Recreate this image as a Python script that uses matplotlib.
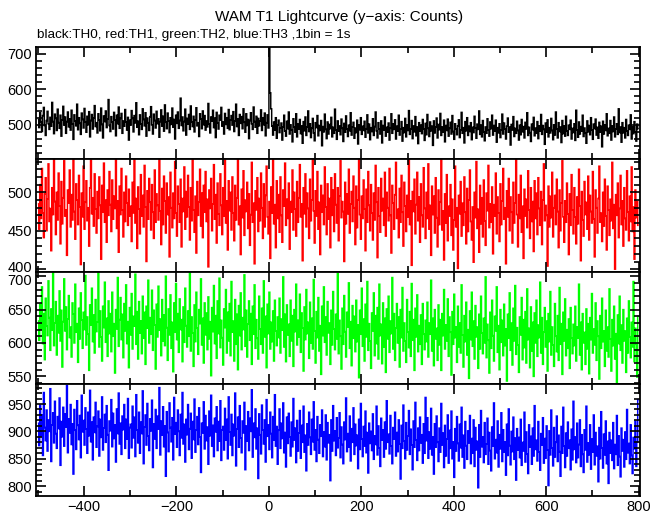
import matplotlib
matplotlib.use("Agg")
import matplotlib.pyplot as plt
import numpy as np
from matplotlib.ticker import MultipleLocator
from matplotlib.transforms import offset_copy

plt.rcParams['font.family'] = ['Liberation Sans', 'DejaVu Sans']

# light curve bins: start time (s) and bin width used here (2 s per plotted bin)
t_start = -500
bin_width = 2

# TH0 (black)
th0 = [
    515, 492, 534, 507, 481, 526, 549, 498, 470, 512,
    538, 503, 487, 521, 496, 563, 509, 475, 530, 518,
    484, 544, 506, 490, 527, 468, 513, 552, 499, 522,
    476, 509, 536, 494, 517, 485, 541, 502, 459, 528,
    511, 497, 558, 486, 520, 504, 473, 533, 515, 491,
    546, 508, 479, 524, 500, 537, 466, 512, 529, 488,
    519, 554, 495, 506, 477, 531, 514, 483, 547, 501,
    463, 525, 509, 539, 492, 516, 571, 498, 481, 523,
    507, 488, 535, 514, 469, 527, 503, 550, 490, 518,
    532, 476, 511, 496, 543, 508, 485, 521, 457, 513,
    499, 540, 518, 480, 526, 505, 562, 493, 510, 472,
    528, 502, 487, 545, 515, 497, 534, 468, 519, 506,
    484, 523, 551, 500, 474, 530, 512, 491, 538, 503,
    517, 465, 509, 542, 496, 524, 482, 556, 507, 489,
    533, 511, 478, 520, 501, 547, 493, 515, 460, 527,
    504, 536, 490, 512, 575, 498, 522, 483, 509, 544,
    471, 518, 502, 529, 487, 553, 508, 495, 524, 480,
    513, 548, 497, 506, 467, 531, 516, 489, 539, 500,
    526, 485, 511, 494, 560, 503, 477, 522, 510, 541,
    492, 519, 464, 535, 505, 488, 527, 513, 549, 496,
    508, 474, 532, 501, 520, 490, 543, 486, 514, 526,
    499, 537, 481, 510, 558, 495, 517, 470, 529, 504,
    523, 489, 545, 507, 479, 531, 498, 515, 461, 512,
    534, 503, 487, 550, 509, 493, 524, 476, 518, 497,
    511, 542, 484, 520, 500, 533, 469, 506, 528, 491,
    722, 590, 545,
    496, 471, 508, 485, 520, 462, 499, 513, 478, 491,
    505, 457, 494, 527, 482, 468, 510, 489, 536, 474,
    500, 486, 452, 517, 493, 479, 531, 466, 502, 488,
    515, 475, 497, 448, 509, 483, 522, 470, 494, 539,
    481, 503, 464, 490, 518, 477, 455, 506, 492, 526,
    469, 498, 484, 512, 441, 495, 480, 530, 487, 461,
    508, 474, 501, 489, 521, 466, 493, 476, 544, 485,
    459, 511, 482, 497, 472, 516, 490, 453, 504, 479,
    525, 488, 467, 499, 483, 534, 471, 494, 507, 462,
    491, 478, 513, 446, 500, 486, 520, 473, 496, 484,
    510, 465, 489, 528, 477, 502, 458, 492, 481, 517,
    470, 495, 536, 483, 463, 506, 488, 474, 511, 449,
    498, 485, 522, 468, 493, 479, 505, 457, 490, 531,
    476, 503, 487, 514, 460, 496, 482, 527, 471, 488,
    509, 454, 492, 478, 518, 466, 500, 484, 540, 473,
    489, 512, 461, 497, 480, 523, 469, 494, 447, 506,
    482, 499, 475, 515, 488, 456, 504, 472, 529, 490,
    467, 508, 483, 496, 442, 511, 477, 493, 519, 463,
    501, 486, 532, 470, 494, 479, 513, 452, 498, 484,
    516, 468, 490, 507, 474, 526, 481, 459, 503, 488,
    472, 497, 514, 464, 485, 535, 476, 492, 449, 509,
    483, 520, 470, 496, 481, 506, 458, 493, 478, 524,
    491, 462, 502, 487, 539, 473, 499, 466, 512, 480,
    455, 494, 476, 517, 485, 468, 508, 489, 527, 471,
    498, 482, 513, 451, 492, 477, 503, 464, 486, 530,
    474, 505, 488, 460, 496, 519, 479, 494, 443, 501,
    485, 523, 467, 490, 476, 510, 484, 457, 499, 472,
    515, 480, 495, 463, 507, 488, 534, 470, 493, 478,
    453, 502, 486, 521, 469, 491, 476, 509, 461, 497,
    482, 529, 473, 498, 487, 445, 505, 479, 514, 466,
    492, 477, 518, 484, 458, 500, 471, 536, 488, 463,
    506, 481, 494, 450, 512, 475, 497, 468, 524, 483,
    470, 499, 487, 513, 460, 490, 478, 503, 456, 541,
    486, 465, 508, 474, 495, 482, 527, 467, 491, 476,
    448, 511, 480, 498, 472, 520, 485, 459, 502, 489,
    516, 471, 493, 462, 507, 479, 496, 438, 510, 474,
    500, 484, 531, 469, 490, 476, 512, 457, 497, 481,
    522, 466, 488, 503, 473, 545, 478, 494, 451, 506,
    477, 492, 463, 515, 483, 470, 499, 487, 528, 460,
    495, 475, 509, 480, 454, 502, 489,
]

# TH1 (red)
th1 = [
    485, 452, 510, 466, 531, 473, 441, 498, 519, 450,
    491, 537, 462, 479, 424, 506, 471, 552, 488, 445,
    500, 464, 525, 482, 433, 514, 459, 493, 541, 469,
    477, 418, 503, 486, 529, 455, 497, 464, 548, 475,
    439, 511, 490, 458, 522, 481, 406, 499, 468, 534,
    452, 487, 515, 463, 480, 430, 506, 542, 472, 493,
    456, 524, 478, 447, 501, 466, 520, 483, 413, 509,
    474, 538, 461, 490, 435, 503, 470, 527, 484, 449,
    516, 465, 495, 479, 544, 453, 489, 422, 508, 471,
    531, 477, 442, 500, 462, 521, 486, 457, 504, 469,
    482, 436, 513, 473, 549, 460, 492, 427, 507, 478,
    446, 523, 469, 496, 455, 535, 481, 410, 502, 465,
    518, 487, 451, 510, 474, 440, 529, 461, 498, 483,
    464, 545, 476, 432, 505, 458, 521, 489, 447, 512,
    471, 494, 416, 526, 480, 454, 499, 466, 540, 473,
    443, 508, 485, 461, 517, 429, 492, 475, 533, 452,
    501, 468, 522, 481, 438, 506, 463, 550, 477, 448,
    495, 421, 514, 470, 487, 530, 456, 499, 441, 509,
    474, 527, 462, 491, 403, 503, 479, 518, 450, 485,
    536, 465, 497, 434, 512, 472, 457, 524, 483, 445,
    506, 469, 542, 460, 489, 425, 515, 476, 500, 451,
    520, 473, 437, 509, 464, 493, 547, 458, 482, 419,
    504, 467, 528, 444, 490, 475, 513, 453, 498, 431,
    471, 539, 461, 486, 407, 502, 477, 519, 449, 492,
    463, 525, 480, 440, 511, 455, 496, 534, 468, 446,
    488, 414, 507, 473, 544, 459, 484, 428, 515, 466,
    497, 448, 520, 470, 435, 503, 482, 538, 457, 491,
    466, 512, 426, 488, 474, 529, 451, 500, 478, 443,
    514, 461, 493, 536, 468, 485, 411, 506, 472, 524,
    455, 499, 479, 440, 517, 463, 490, 548, 476, 434,
    502, 469, 527, 452, 487, 419, 509, 474, 496, 458,
    533, 481, 445, 511, 465, 492, 428, 519, 470, 503,
    449, 524, 484, 460, 506, 437, 495, 541, 467, 488,
    475, 410, 513, 459, 498, 472, 530, 447, 485, 501,
    462, 521, 480, 432, 508, 454, 490, 545, 471, 439,
    495, 466, 516, 478, 424, 504, 461, 527, 483, 450,
    510, 473, 438, 499, 464, 535, 487, 415, 506, 469,
    448, 518, 476, 492, 457, 526, 443, 500, 480, 463,
    531, 470, 421, 509, 486, 452, 497, 539, 466, 478,
    441, 505, 461, 522, 474, 430, 513, 482, 449, 496,
    468, 543, 458, 489, 405, 501, 475, 517, 446, 484,
    526, 463, 494, 435, 511, 470, 455, 532, 479, 440,
    500, 466, 537, 452, 483, 418, 508, 471, 495, 447,
    519, 467, 429, 503, 458, 487, 546, 451, 476, 412,
    498, 460, 523, 437, 482, 469, 510, 444, 491, 425,
    464, 534, 455, 480, 401, 496, 472, 514, 443, 486,
    457, 520, 474, 433, 505, 449, 490, 529, 462, 438,
    481, 409, 500, 467, 540, 453, 478, 422, 509, 459,
    493, 442, 516, 463, 431, 499, 476, 535, 454, 485,
    461, 507, 420, 484, 469, 525, 446, 494, 473, 436,
    511, 458, 489, 531, 465, 480, 407, 502, 468, 518,
    450, 494, 474, 434, 513, 460, 486, 544, 471, 429,
    497, 466, 522, 448, 482, 414, 504, 469, 491, 454,
    528, 477, 440, 506, 462, 488, 423, 515, 466, 499,
    445, 519, 479, 457, 501, 432, 490, 537, 463, 483,
    470, 404, 508, 455, 495, 467, 526, 442, 480, 496,
    458, 517, 475, 428, 503, 450, 486, 541, 468, 435,
    489, 461, 512, 472, 419, 498, 457, 523, 477, 446,
    506, 468, 433, 494, 459, 530, 482, 411, 501, 464,
    443, 514, 471, 487, 452, 521, 438, 496, 475, 460,
    527, 465, 416, 503, 480, 447, 492, 534, 461, 473,
    436, 500, 456, 517, 469, 425, 508, 477, 444, 491,
    463, 539, 453, 484, 400, 497, 470, 512, 441, 479,
    522, 458, 489, 430, 506, 466, 451, 528, 474, 437,
    495, 462, 533, 449, 481, 413, 503, 467, 488, 457,
]

# TH2 (green)
th2 = [
    633, 604, 658, 621, 684, 599, 644, 575, 667, 625,
    611, 693, 638, 589, 651, 619, 706, 596, 630, 662,
    582, 641, 615, 678, 603, 649, 564, 632, 696, 618,
    654, 590, 636, 671, 608, 624, 579, 660, 643, 600,
    688, 616, 629, 571, 652, 606, 675, 634, 592, 646,
    620, 701, 597, 639, 613, 559, 657, 627, 682, 602,
    642, 585, 665, 617, 631, 708, 594, 648, 609, 573,
    655, 623, 691, 601, 637, 580, 663, 614, 644, 587,
    676, 610, 629, 555, 650, 621, 698, 595, 635, 668,
    605, 643, 578, 659, 618, 687, 599, 632, 563, 653,
    612, 674, 591, 640, 625, 703, 598, 647, 576, 662,
    615, 633, 584, 670, 607, 646, 568, 655, 622, 694,
    600, 638, 613, 679, 589, 649, 627, 561, 658, 609,
    685, 619, 636, 581, 665, 603, 642, 596, 700, 623,
    574, 651, 612, 672, 592, 631, 557, 660, 616, 689,
    605, 644, 586, 666, 620, 635, 572, 654, 601, 682,
    626, 594, 648, 610, 705, 588, 639, 615, 565, 657,
    602, 676, 622, 583, 650, 629, 696, 597, 637, 570,
    660, 612, 645, 590, 669, 606, 632, 551, 653, 617,
    686, 599, 641, 577, 663, 614, 697, 593, 634, 608,
    567, 651, 623, 680, 585, 646, 603, 659, 581, 692,
    616, 633, 573, 665, 598, 643, 560, 656, 611, 675,
    590, 638, 620, 702, 595, 649, 579, 628, 663, 604,
    644, 568, 655, 613, 687, 592, 635, 607, 576, 670,
    621, 598, 652, 585, 693, 609, 640, 563, 658, 614,
    676, 591, 631, 602, 648, 573, 664, 618, 596, 639,
    608, 667, 585, 636, 619, 699, 594, 643, 572, 657,
    612, 628, 580, 664, 603, 641, 565, 650, 617, 688,
    597, 634, 609, 673, 586, 645, 622, 558, 654, 605,
    680, 614, 631, 577, 661, 600, 637, 591, 695, 618,
    570, 647, 608, 668, 588, 626, 553, 655, 611, 684,
    601, 639, 582, 662, 615, 630, 568, 649, 597, 677,
    621, 590, 643, 606, 704, 584, 634, 610, 561, 652,
    598, 671, 617, 579, 646, 624, 690, 592, 632, 566,
    656, 607, 640, 587, 664, 602, 627, 548, 649, 613,
    682, 595, 636, 573, 658, 609, 692, 589, 629, 603,
    562, 645, 618, 675, 581, 641, 599, 653, 576, 688,
    611, 628, 569, 660, 594, 637, 556, 651, 606, 670,
    586, 633, 614, 698, 591, 644, 574, 622, 659, 600,
    639, 564, 650, 608, 683, 588, 630, 603, 571, 665,
    616, 593, 647, 580, 689, 604, 635, 559, 652, 609,
    672, 587, 626, 598, 642, 568, 659, 613, 590, 634,
    602, 661, 579, 630, 613, 694, 588, 637, 566, 650,
    606, 622, 574, 657, 597, 635, 559, 644, 611, 680,
    591, 627, 603, 666, 580, 639, 616, 552, 647, 598,
    673, 608, 624, 571, 655, 594, 630, 585, 687, 612,
    564, 641, 602, 661, 582, 620, 547, 648, 605, 676,
    595, 633, 576, 656, 609, 624, 562, 643, 591, 670,
    615, 584, 637, 600, 699, 578, 628, 604, 555, 646,
    592, 664, 611, 573, 640, 618, 684, 586, 626, 560,
    650, 601, 634, 581, 658, 596, 621, 543, 643, 607,
    675, 589, 630, 567, 652, 603, 686, 583, 623, 597,
    556, 639, 612, 668, 575, 635, 593, 647, 570, 681,
    605, 622, 563, 654, 588, 631, 550, 645, 600, 664,
    580, 627, 608, 691, 585, 638, 568, 616, 653, 594,
    633, 558, 644, 602, 677, 582, 624, 597, 565, 659,
    610, 587, 641, 574, 683, 598, 629, 553, 646, 603,
    666, 581, 620, 592, 636, 562, 653, 607, 584, 628,
    596, 655, 573, 624, 607, 688, 582, 631, 560, 644,
    600, 616, 568, 651, 591, 629, 554, 638, 605, 674,
    585, 621, 597, 660, 574, 633, 610, 546, 641, 592,
    667, 602, 618, 565, 649, 588, 624, 579, 681, 606,
    558, 635, 596, 655, 576, 614, 541, 642, 599, 670,
    589, 627, 570, 650, 603, 618, 556, 637, 585, 663,
    609, 578, 631, 594, 692, 572, 622, 598, 549, 640,
]

# TH3 (blue)
th3 = [
    915, 874, 948, 892, 930, 856, 971, 907, 883, 939,
    864, 921, 900, 978, 845, 912, 934, 879, 955, 896,
    869, 927, 905, 961, 838, 918, 890, 944, 873, 932,
    908, 984, 861, 923, 897, 949, 876, 914, 822, 940,
    902, 867, 956, 911, 885, 929, 852, 966, 899, 920,
    875, 943, 904, 860, 935, 892, 975, 881, 917, 848,
    926, 898, 953, 871, 909, 937, 855, 922, 889, 963,
    866, 906, 931, 880, 947, 894, 829, 919, 901, 958,
    872, 933, 887, 912, 844, 941, 896, 970, 877, 915,
    858, 928, 903, 949, 869, 922, 886, 960, 851, 907,
    913, 870, 946, 888, 926, 854, 967, 903, 879, 935,
    860, 917, 896, 974, 841, 908, 930, 875, 951, 892,
    865, 923, 901, 957, 834, 914, 886, 940, 869, 928,
    904, 980, 857, 919, 893, 945, 872, 910, 818, 936,
    898, 863, 952, 907, 881, 925, 848, 962, 895, 916,
    871, 939, 900, 856, 931, 888, 971, 877, 913, 844,
    922, 894, 949, 867, 905, 933, 851, 918, 885, 959,
    862, 902, 927, 876, 943, 890, 825, 915, 897, 954,
    868, 929, 883, 908, 840, 937, 892, 966, 873, 911,
    854, 924, 899, 945, 865, 918, 882, 956, 847, 903,
    909, 866, 942, 884, 922, 850, 963, 899, 875, 931,
    856, 913, 892, 970, 837, 904, 926, 871, 947, 888,
    861, 919, 897, 953, 830, 910, 882, 936, 865, 924,
    900, 976, 853, 915, 889, 941, 868, 906, 814, 932,
    894, 859, 948, 903, 877, 921, 844, 958, 891, 912,
    867, 935, 896, 852, 927, 884, 967, 873, 909, 840,
    902, 941, 869, 915, 887, 952, 861, 898, 835, 926,
    878, 933, 890, 855, 917, 872, 960, 884, 906, 843,
    920, 864, 897, 938, 851, 911, 880, 946, 862, 893,
    828, 914, 875, 935, 889, 858, 922, 881, 954, 866,
    903, 845, 927, 885, 860, 912, 891, 939, 854, 899,
    872, 930, 848, 916, 879, 894, 810, 921, 864, 947,
    883, 901, 856, 925, 870, 888, 934, 852, 908, 876,
    841, 917, 885, 961, 863, 896, 871, 928, 846, 905,
    880, 943, 858, 913, 874, 893, 832, 922, 867, 951,
    886, 854, 909, 873, 937, 861, 898, 824, 915, 878,
    900, 865, 932, 849, 892, 876, 946, 857, 910, 870,
    836, 924, 884, 903, 853, 917, 868, 956, 880, 895,
    859, 929, 873, 841, 907, 886, 935, 855, 898, 863,
    921, 877, 813, 911, 869, 948, 882, 850, 916, 866,
    892, 938, 858, 904, 875, 830, 919, 871, 953, 884,
    847, 906, 865, 926, 879, 894, 842, 914, 860, 962,
    883, 925, 851, 899, 868, 942, 857, 890, 822, 914,
    871, 928, 880, 845, 906, 862, 951, 875, 897, 834,
    911, 855, 886, 930, 842, 902, 869, 937, 850, 881,
    816, 905, 864, 927, 878, 846, 913, 870, 944, 853,
    893, 833, 918, 874, 849, 901, 879, 929, 841, 887,
    860, 921, 836, 907, 866, 882, 797, 912, 853, 938,
    872, 890, 843, 916, 858, 877, 924, 840, 898, 865,
    828, 908, 873, 952, 850, 885, 861, 919, 835, 894,
    868, 934, 845, 903, 862, 881, 820, 913, 856, 941,
    874, 839, 900, 863, 926, 849, 888, 811, 905, 866,
    889, 852, 922, 838, 880, 864, 935, 844, 899, 859,
    823, 912, 871, 891, 840, 906, 855, 947, 867, 884,
    846, 918, 862, 829, 896, 875, 925, 842, 887, 851,
    910, 866, 801, 901, 857, 939, 870, 837, 907, 853,
    880, 928, 845, 893, 863, 818, 909, 860, 944, 873,
    834, 897, 855, 917, 869, 884, 830, 904, 848, 955,
    867, 890, 843, 915, 852, 876, 921, 836, 894, 858,
    825, 903, 866, 946, 844, 879, 857, 912, 831, 886,
    862, 930, 839, 898, 855, 873, 808, 907, 850, 936,
    870, 833, 895, 857, 919, 841, 882, 805, 898, 860,
    884, 847, 916, 832, 876, 858, 929, 838, 892, 854,
    817, 906, 864, 885, 835, 899, 849, 940, 861, 878,
    841, 912, 856, 823, 889, 868, 919, 836, 881, 958,
]

series = [th0, th1, th2, th3]
colors = ['black', '#ff0000', '#00ff00', '#0000ff']
ylims = [(403, 719), (397, 543), (539, 707), (782, 987)]
major = [100, 50, 50, 50]
minor = [20, 10, 10, 10]

fig = plt.figure(figsize=(6.65, 5.15), dpi=100)
left, right = 36 / 665, 640 / 665
top, bottom = 1 - 47 / 515, 1 - 496 / 515
h = (top - bottom) / 4

axes = []
for i, vals in enumerate(series):
    ax = fig.add_axes([left, top - (i + 1) * h, right - left, h])
    edges = t_start + bin_width * np.arange(len(vals) + 1)
    ax.stairs(vals, edges, color=colors[i], lw=1.05, baseline=None)
    ax.set_xlim(-504, 803)
    ax.set_ylim(*ylims[i])
    ax.xaxis.set_major_locator(MultipleLocator(200))
    ax.xaxis.set_minor_locator(MultipleLocator(100))
    ax.yaxis.set_major_locator(MultipleLocator(major[i]))
    ax.yaxis.set_minor_locator(MultipleLocator(minor[i]))
    ax.tick_params(which='both', direction='in', top=True, right=True,
                   labelsize=10.5, width=1.2, pad=3)
    ax.tick_params(which='major', length=7)
    ax.tick_params(which='minor', length=4)
    for sp in ax.spines.values():
        sp.set_linewidth(1.3)
    if i < 3:
        ax.tick_params(labelbottom=False)
    axes.append(ax)

# the "400" of TH1 and "700" of TH2 sit on the same boundary; nudge apart a bit
fig.canvas.draw()
for lab in axes[1].get_yticklabels():
    if lab.get_text() == '400':
        lab.set_transform(offset_copy(lab.get_transform(), fig=fig, y=3, units='dots'))
for lab in axes[2].get_yticklabels():
    if lab.get_text() == '700':
        lab.set_transform(offset_copy(lab.get_transform(), fig=fig, y=-3, units='dots'))

fig.text(0.51, 1 - 17 / 515, 'WAM T1 Lightcurve (y\u2212axis: Counts)',
         ha='center', va='center', fontsize=11)
fig.text(37 / 665, 1 - 35 / 515,
         'black:TH0, red:TH1, green:TH2, blue:TH3 ,1bin = 1s',
         ha='left', va='center', fontsize=9.7)

fig.savefig('out.png', dpi=100)
